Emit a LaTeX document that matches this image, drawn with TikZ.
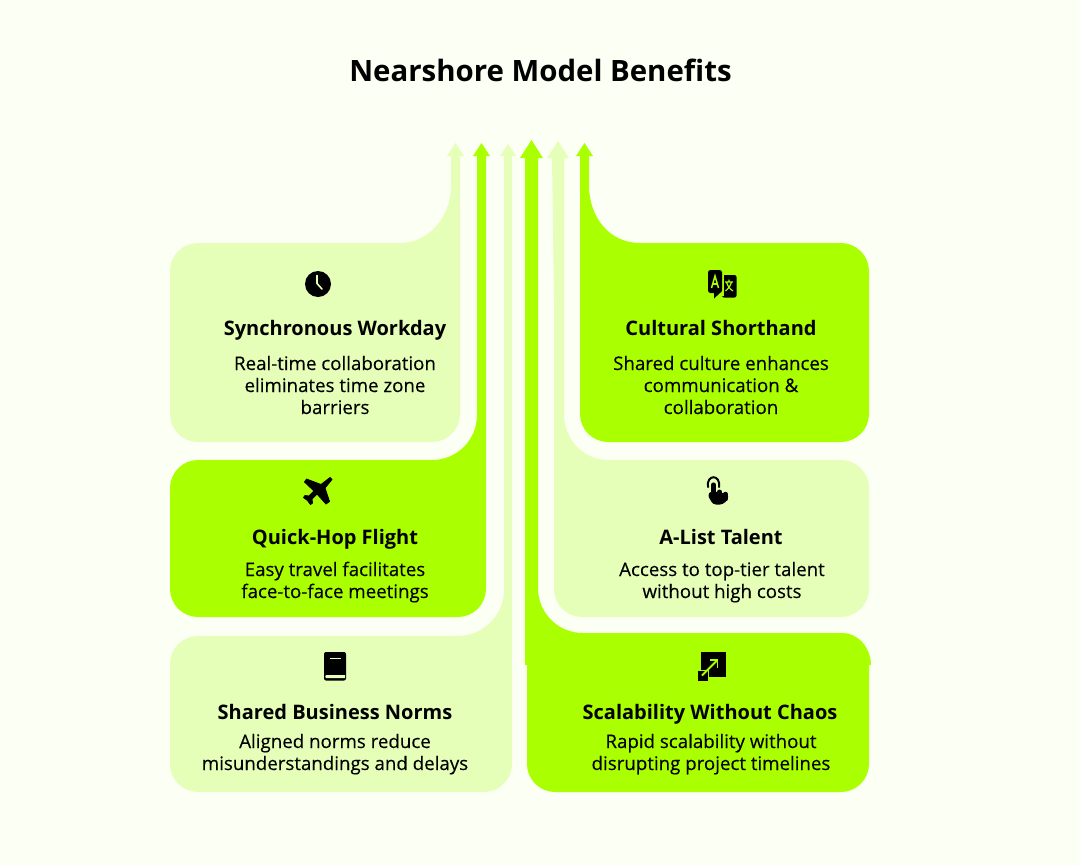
\documentclass[tikz,border=0pt]{standalone}
\usepackage{fontspec}
\setmainfont{Open Sans}
\newfontfamily\bodyfam[FakeBold=0.2]{Open Sans}
\definecolor{pagebg}{HTML}{FCFFF4}
\definecolor{lite}{HTML}{E6FFB8}
\definecolor{lime}{HTML}{AAFF00}
\tikzset{
  titletext/.style={anchor=base,font=\fontsize{29.4}{32}\selectfont\bfseries,text=black,inner sep=0pt},
  headtext/.style={anchor=base,font=\fontsize{20}{22}\selectfont\bfseries,text=black,inner sep=0pt},
  bodytext/.style={anchor=base,font=\bodyfam\fontsize{18.7}{22}\selectfont,text=black,inner sep=0pt,align=center},
  icon/.style={fill=black,draw=none}
}
\begin{document}
\begin{tikzpicture}[x=1pt,y=-1pt]
\useasboundingbox (0,0) rectangle (1080,865);
\fill[pagebg] (0,0) rectangle (1080,865);
% Synchronous Workday
\fill[lite] (455.5,143) -- (464,156) -- (460,156) -- (460,414) .. controls (460,429.4) and (447.4,442) .. (432,442) -- (198,442) .. controls (182.6,442) and (170,429.4) .. (170,414) -- (170,271) .. controls (170,255.6) and (182.6,243) .. (198,243) -- (400,243) .. controls (428,243) and (451,218) .. (451,185) -- (451,156) -- (447,156) -- cycle;
% Quick-Hop Flight
\fill[lime] (481.5,143) -- (490,156) -- (486,156) -- (486,589) .. controls (486,604.4) and (473.4,617) .. (458,617) -- (198,617) .. controls (182.6,617) and (170,604.4) .. (170,589) -- (170,488) .. controls (170,472.6) and (182.6,460) .. (198,460) -- (432,460) .. controls (457,460) and (477,440) .. (477,415) -- (477,156) -- (473,156) -- cycle;
% Shared Business Norms
\fill[lite] (508,144) -- (516,156) -- (512,156) -- (512,764) .. controls (512,779.4) and (499.4,792) .. (484,792) -- (198,792) .. controls (182.6,792) and (170,779.4) .. (170,764) -- (170,664) .. controls (170,648.6) and (182.6,636) .. (198,636) -- (458,636) .. controls (483,636) and (504,615) .. (504,590) -- (504,156) -- (500,156) -- cycle;
% Scalability Without Chaos
\fill[lime] (531.5,140) -- (543,158) -- (538,158) -- (538,588) .. controls (538,613) and (558,633) .. (583,633) -- (843,633) .. controls (858,633) and (871,648) .. (871,665) -- (869,665) -- (869,764) .. controls (869,779.4) and (856.4,792) .. (841,792) -- (555,792) .. controls (539.6,792) and (527,779.4) .. (527,764) -- (527,665) -- (525,665) -- (525,158) -- (520,158) -- cycle;
% A-List Talent
\fill[lite] (558,141) -- (569,158) -- (564,158) -- (564,414) .. controls (564,439) and (583,460) .. (608,460) -- (841,460) .. controls (856.4,460) and (869,472.6) .. (869,488) -- (869,589) .. controls (869,604.4) and (856.4,617) .. (841,617) -- (582,617) .. controls (566.6,617) and (554,604.4) .. (554,589) -- (554,300) -- (552,158) -- (547,158) -- cycle;
% Cultural Shorthand
\fill[lime] (584.5,143) -- (593,156) -- (589,156) -- (589,185) .. controls (589,218) and (610,243) .. (640,243) -- (841,243) .. controls (856.4,243) and (869,255.6) .. (869,271) -- (869,414) .. controls (869,429.4) and (856.4,442) .. (841,442) -- (608,442) .. controls (592.6,442) and (580,429.4) .. (580,414) -- (580,156) -- (576,156) -- cycle;
% clock icon
\fill[icon] (318,284) circle[radius=13];
\draw[lite,line width=1.6pt,line join=round,line cap=round] (317,275.5) -- (317,283.5) -- (322,289);
% translate icon
\fill[icon,rounded corners=2pt] (722,275) rectangle (736.5,297.5);
\fill[icon] (720,293) -- (714,293) -- (714,298.5) -- cycle;
\fill[lime] (721,270) rectangle (723.5,296);
\fill[icon,rounded corners=2.5pt] (708,270) rectangle (722,293);
\draw[lime,line width=1.5pt,line join=miter] (711.5,288) -- (715,276) -- (718.5,288);
\draw[lime,line width=1.3pt] (712.8,284) -- (717.2,284);
\draw[lime,line width=1.2pt] (725,282) -- (733,282) (729,279.5) -- (729,282) (731.5,282) .. controls (730.5,286) and (728,289) .. (725.5,291) (726.5,282) .. controls (727.5,286) and (730,289) .. (733,291);
% plane icon
\fill[icon,draw=black,line width=0.8pt,line join=round] (330,477.5) -- (332,479.5) -- (325,488) -- (329.5,501.5) -- (326,504) -- (317,494) -- (312,499) -- (312.5,503) -- (310.5,504.5) -- (307.5,500.5) -- (303.5,497.5) -- (305,495.5) -- (309,496) -- (314,491) -- (304.5,482) -- (306.5,479) -- (321,484.5) -- cycle;
% hand icon
\draw[black,line width=2pt,line cap=round] (708,487) .. controls (706,474) and (721,474) .. (719,487);
\draw[black,line width=5.2pt,line cap=round] (713.5,485) -- (713.5,498);
\draw[black,line width=5pt,line cap=round] (719.5,492) -- (719.5,498);
\draw[black,line width=4.5pt,line cap=round] (725.5,494) -- (725.5,499);
\fill[icon,rounded corners=3pt] (707.5,495) -- (711,491) -- (728,494) -- (728,499) -- (723,504.5) -- (713,504.5) -- cycle;
% book icon
\fill[icon,rounded corners=2pt] (324,652) rectangle (346,680.5);
\draw[lite,line width=1.6pt] (330,658.5) -- (340.5,658.5);
\fill[lite] (326,675) -- (345,675) -- (345,678) -- (326,678) .. controls (325,677) and (325,676) .. (326,675) -- cycle;
% scale icon
\fill[icon] (701,652) rectangle (725.5,677);
\fill[icon,draw=lime,line width=1pt] (697,670) rectangle (708.5,681);
\draw[lime,line width=1.8pt] (702,675.5) -- (717,660.5);
\draw[lime,line width=1.8pt] (710,660) -- (717.5,660) -- (717.5,667.5);
% texts
\node[titletext] (title) at (540.5,81) {Nearshore Model Benefits};
\node[headtext] (h1) at (335,335) {Synchronous Workday};
\node[bodytext] (b1a) at (335,370) {Real-time collaboration};
\node[bodytext] (b1b) at (335,392) {eliminates time zone};
\node[bodytext] (b1c) at (335,414) {barriers};
\node[headtext] (h4) at (721,335) {Cultural Shorthand};
\node[bodytext] (b4a) at (721,370) {Shared culture enhances};
\node[bodytext] (b4b) at (721,392) {communication \&};
\node[bodytext] (b4c) at (721,414) {collaboration};
\node[headtext] (h2) at (335,544) {Quick-Hop Flight};
\node[bodytext] (b2a) at (335,576) {Easy travel facilitates};
\node[bodytext] (b2b) at (335,598) {face-to-face meetings};
\node[headtext] (h5) at (721,544) {A-List Talent};
\node[bodytext] (b5a) at (722,576) {Access to top-tier talent};
\node[bodytext] (b5b) at (722,598) {without high costs};
\node[headtext] (h3) at (335,719) {Shared Business Norms};
\node[bodytext] (b3a) at (335,748) {Aligned norms reduce};
\node[bodytext] (b3b) at (335,770) {misunderstandings and delays};
\node[headtext] (h6) at (710,719) {Scalability Without Chaos};
\node[bodytext] (b6a) at (711,748) {Rapid scalability without};
\node[bodytext] (b6b) at (711,770) {disrupting project timelines};
\end{tikzpicture}
\end{document}
